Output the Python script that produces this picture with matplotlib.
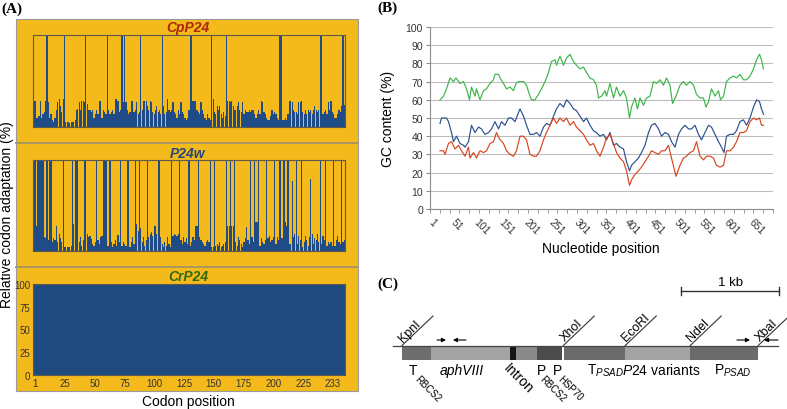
import numpy as np
import matplotlib
matplotlib.use('Agg')
import matplotlib.pyplot as plt
from matplotlib.patches import Rectangle

plt.rcParams['font.family'] = ['Liberation Sans', 'DejaVu Sans']
plt.rcParams['mathtext.fontset'] = 'custom'
plt.rcParams['mathtext.rm'] = 'Liberation Sans'
plt.rcParams['mathtext.it'] = 'Liberation Sans:italic'
plt.rcParams['mathtext.bf'] = 'Liberation Sans:bold'

# ---------------- data: panel A (relative codon adaptation, %) ----------------
cpp24_rca = [
    100, 28, 10, 10, 12, 28, 10, 14, 16, 28,
    100, 27, 10, 14, 8, 5, 10, 19, 27, 30,
    23, 16, 30, 100, 5, 5, 5, 4, 5, 5,
    5, 8, 19, 20, 27, 19, 28, 28, 27, 100,
    25, 19, 18, 16, 19, 10, 14, 19, 14, 28,
    28, 10, 19, 16, 14, 100, 19, 14, 16, 19,
    14, 30, 30, 28, 16, 19, 100, 27, 100, 27,
    19, 14, 16, 28, 28, 16, 19, 27, 14, 16,
    100, 19, 28, 28, 28, 23, 19, 28, 27, 16,
    14, 19, 23, 16, 19, 14, 100, 23, 14, 16,
    30, 19, 16, 19, 27, 16, 14, 10, 19, 14,
    27, 16, 14, 10, 8, 10, 19, 100, 100, 28,
    28, 28, 19, 16, 14, 27, 19, 14, 10, 8,
    14, 10, 8, 100, 30, 16, 14, 23, 19, 23,
    14, 10, 16, 12, 100, 28, 28, 27, 28, 23,
    19, 19, 23, 27, 19, 16, 27, 14, 19, 16,
    16, 19, 16, 19, 19, 14, 10, 14, 19, 14,
    28, 27, 16, 14, 10, 8, 8, 12, 19, 14,
    16, 14, 10, 8, 100, 100, 8, 8, 10, 8,
    14, 28, 28, 27, 19, 16, 16, 14, 27, 27,
    28, 16, 14, 19, 14, 19, 16, 19, 14, 19,
    23, 19, 16, 19, 100, 100, 14, 16, 19, 14,
    27, 19, 28, 16, 14, 10, 10, 14, 19, 16,
    23, 100, 24]

p24w_rca = [
    100, 100, 28, 100, 100, 100, 100, 100, 15, 14,
    100, 12, 100, 100, 10, 14, 12, 28, 10, 19,
    14, 10, 100, 4, 4, 4, 4, 4, 5, 100,
    30, 100, 100, 100, 10, 15, 5, 12, 100, 100,
    19, 15, 17, 13, 8, 6, 10, 100, 12, 8,
    15, 17, 100, 100, 100, 6, 6, 100, 10, 4,
    8, 12, 6, 18, 10, 100, 6, 10, 8, 6,
    100, 100, 4, 10, 15, 8, 100, 30, 22, 100,
    25, 10, 15, 6, 12, 100, 15, 19, 21, 17,
    28, 28, 19, 100, 100, 15, 8, 4, 10, 6,
    15, 8, 4, 100, 17, 19, 18, 17, 19, 100,
    12, 8, 15, 10, 14, 8, 100, 6, 10, 15,
    12, 28, 27, 100, 15, 12, 10, 8, 6, 10,
    12, 10, 100, 4, 4, 100, 6, 8, 5, 10,
    4, 6, 8, 10, 100, 27, 28, 100, 28, 27,
    100, 10, 6, 15, 12, 8, 4, 10, 14, 26,
    12, 8, 100, 15, 10, 100, 32, 32, 100, 6,
    14, 10, 8, 12, 100, 14, 17, 10, 12, 15,
    100, 8, 15, 12, 100, 14, 14, 100, 32, 28,
    100, 8, 8, 77, 15, 19, 100, 8, 17, 12,
    100, 4, 10, 17, 12, 6, 15, 79, 19, 8,
    14, 12, 19, 10, 100, 8, 17, 12, 100, 6,
    10, 8, 10, 6, 100, 6, 12, 17, 10, 8,
    100, 10, 12]

crp24_rca = [100] * 233

codon_tick_labels = ['1', '25', '50', '75', '100', '125', '150', '175', '200', '225', '233']
rca_tick_labels = ['0', '25', '50', '75', '100']

# ---------------- data: panel B (GC content, %) ----------------
green_pos = [17, 24, 30, 37, 44, 49, 57, 64, 70, 76, 80, 87, 90, 97, 104, 110, 117, 124, 127, 134,
             137, 144, 150, 157, 164, 169, 174, 184, 190, 197, 200, 207, 214, 220, 227, 234, 240,
             247, 250, 257, 264, 270, 277, 284, 290, 297, 304, 310, 317, 324, 330, 334, 340, 347,
             350, 357, 364, 370, 377, 384, 390, 396, 400, 407, 412, 417, 424, 430, 437, 444, 450,
             457, 464, 470, 477, 482, 489, 497, 504, 510, 517, 524, 530, 537, 544, 549, 554, 560,
             567, 574, 578, 584, 590, 597, 604, 610, 617, 624, 630, 637, 644, 650, 656, 660, 664]
green_gc = [60, 62, 66, 72, 70, 72, 69, 70, 66, 60, 67, 62, 66, 60, 65, 66, 69, 71, 74, 74,
            72, 69, 66, 67, 65, 69, 70, 70, 68, 62, 60, 60, 63, 66, 70, 75, 81,
            82, 79, 84, 79, 83, 85, 81, 79, 77, 78, 75, 72, 71, 68, 61, 62, 65,
            62, 69, 61, 67, 62, 65, 61, 50, 56, 61, 55, 61, 57, 61, 62, 70, 69,
            71, 68, 72, 68, 58, 62, 68, 70, 68, 70, 68, 63, 61, 61, 56, 59, 66,
            62, 65, 60, 62, 70, 72, 73, 72, 74, 71, 71, 73, 77, 82, 85, 82, 77]

blue_pos = [17, 20, 30, 34, 40, 44, 50, 57, 64, 67, 74, 80, 87, 94, 100, 107, 114, 120, 127, 134,
            140, 147, 154, 160, 167, 174, 177, 184, 190, 197, 204, 210, 217, 224, 230, 237, 244,
            250, 257, 264, 270, 277, 284, 290, 297, 304, 310, 317, 324, 330, 337, 344,
            350, 357, 364, 370, 377, 384, 390, 396, 400, 407, 414, 420, 427, 434, 440, 447, 454,
            460, 467, 474, 480, 487, 494, 500, 507, 514, 520, 527, 534, 540, 547, 554, 560, 567,
            574, 580, 585, 590, 597, 604, 610, 617, 624, 630, 637, 644, 650, 656, 660, 664]
blue_gc = [47, 50, 50, 48, 42, 37, 40, 36, 35, 34, 37, 46, 42, 45, 44, 41, 42, 44, 48, 44,
           48, 46, 50, 50, 48, 53, 55, 51, 46, 41, 41, 42, 40, 45, 47, 46, 51,
           55, 58, 56, 60, 58, 55, 54, 51, 48, 50, 46, 43, 42, 40, 41,
           38, 42, 35, 36, 34, 33, 26, 21, 24, 26, 28, 31, 35, 42, 46, 47, 44,
           40, 42, 41, 37, 34, 41, 44, 46, 44, 44, 46, 41, 38, 42, 46, 45, 41,
           37, 34, 31, 40, 41, 41, 43, 48, 49, 46, 50, 56, 60, 59, 55, 52]

red_pos = [17, 24, 27, 34, 40, 47, 54, 60, 67, 74, 77, 84, 90, 97, 104, 110, 117, 124, 130, 137,
           144, 150, 157, 164, 170, 177, 184, 190, 197, 204, 210, 217, 224, 230, 237, 244, 250,
           257, 264, 270, 277, 284, 290, 297, 304, 310, 317, 324, 330, 337, 344,
           350, 357, 364, 370, 377, 384, 390, 396, 400, 407, 414, 420, 427, 434, 440, 447, 454,
           460, 467, 474, 480, 489, 497, 504, 510, 517, 524, 530, 537, 544, 550, 557, 564, 570,
           577, 584, 590, 597, 604, 610, 617, 624, 630, 637, 644, 650, 656, 660, 664]
red_gc = [32, 32, 30, 36, 37, 33, 35, 32, 29, 34, 28, 31, 28, 32, 31, 32, 36, 37, 42, 38,
          36, 32, 30, 29, 32, 40, 40, 38, 30, 29, 29, 32, 38, 42, 46, 50, 47,
          50, 48, 50, 46, 48, 45, 43, 41, 38, 35, 36, 32, 29, 34,
          39, 41, 36, 31, 28, 26, 21, 13, 16, 19, 21, 23, 26, 29, 32, 31, 30,
          32, 32, 35, 28, 18, 24, 28, 29, 31, 32, 37, 29, 27, 29, 29, 28, 24,
          23, 24, 32, 32, 34, 37, 42, 42, 43, 48, 50, 49, 50, 46, 46]

gc_xtick_labels = [1, 51, 101, 151, 201, 251, 301, 351, 401, 451, 501, 551, 601, 651]

# ---------------- data: panel C (construct map, bp) ----------------
part_names = ['T_RBCS2', 'aphVIII', 'Intron', 'P_RBCS2', 'P_HSP70', 'gap', 'T_PSAD', 'P24 variants', 'P_PSAD']
part_bp = [300, 806, 61, 214, 255, 20, 622, 663, 694]
site_names = ['KpnI', 'XhoI', 'EcoRI', 'NdeI', 'XbaI']
site_bp = [0, 1646, 2278, 2941, 3635]
primer_from_bp = [357, 653, 3418, 3837]
primer_to_bp = [449, 520, 3551, 3694]
scale_bar_bp = 1000

# ---------------- styles ----------------
ORANGE = '#F4B91B'
BAR_BLUE = '#1f4b87'
W, H = 787, 410
fig = plt.figure(figsize=(W / 100, H / 100), dpi=100)


def px_axes(x0, y0, x1, y1, **kw):
    return fig.add_axes([x0 / W, 1 - y1 / H, (x1 - x0) / W, (y1 - y0) / H], **kw)


bg = px_axes(0, 0, W, H, zorder=0)
bg.set_xlim(0, W)
bg.set_ylim(H, 0)
bg.axis('off')

# ---- Panel A ----
bg.add_patch(Rectangle((16, 20), 342, 372, fc=ORANGE, ec='#9a9a9a', lw=0.8))
for ysep in (144, 268):
    bg.plot([16, 358], [ysep, ysep], color='#a39468', lw=1.3)

codons = np.arange(1, 234)
panelA = [
    ((36, 128), cpp24_rca, 'CpP24', '#a8290e', 28),
    ((161, 252), p24w_rca, 'P24w', '#2b4777', 154),
    ((285, 376), crp24_rca, 'CrP24', '#2f6b14', 277),
]
for k, ((y0, y1), vals, title, tcol, ty) in enumerate(panelA):
    ax = px_axes(33, y0, 345, y1, zorder=2)
    ax.set_facecolor(ORANGE)
    if k < 2:
        ax.bar(codons, vals, width=0.9, color=BAR_BLUE, edgecolor='none', linewidth=0)
    else:
        ax.bar(codons, vals, width=1.0, color='#204b81', edgecolor='#204b81', linewidth=0.3)
    ax.set_xlim(0.5, 233.5)
    ax.set_ylim(0, 100)
    for s in ax.spines.values():
        s.set_color('#5c5a4e')
        s.set_linewidth(0.8)
    if k < 2:
        ax.set_xticks([])
        ax.set_yticks([])
    else:
        ax.set_xticks(np.linspace(2.0, 224.5, len(codon_tick_labels)))
        ax.set_xticklabels(codon_tick_labels)
        ax.set_yticks([0, 25, 50, 75, 100])
        ax.set_yticklabels(rca_tick_labels)
        ax.tick_params(length=0, labelsize=7, colors='#333333', pad=2)
    bg.text(188, ty, title, ha='center', va='center', fontsize=10, fontweight='bold',
            fontstyle='italic', color=tcol)

bg.text(7, 215, 'Relative codon adaptation (%)', rotation=90, ha='center', va='center', fontsize=10)
bg.text(188, 402, 'Codon position', ha='center', va='center', fontsize=10)

# ---- Panel B ----
axB = px_axes(430, 28, 773, 210, zorder=2)
axB.plot(green_pos, green_gc, color='#3db54a', lw=0.85)
axB.plot(blue_pos, blue_gc, color='#2c4f8f', lw=0.85)
axB.plot(red_pos, red_gc, color='#d8441f', lw=0.85)
axB.set_xlim(-3, 683)
axB.set_ylim(0, 100)
axB.set_yticks(range(0, 101, 10))
axB.grid(axis='y', color='#bdbdbd', lw=0.8)
axB.set_axisbelow(True)
axB.set_xticks(gc_xtick_labels)
axB.set_xticklabels([str(v) for v in gc_xtick_labels], rotation=-45, ha='center', va='top')
axB.set_xticks(np.arange(-3, 684, 19.6), minor=True)
axB.tick_params(axis='x', which='major', length=0, pad=5, labelsize=7.5, colors='#333333')
axB.tick_params(axis='x', which='minor', length=3, color='#8c8c8c')
axB.tick_params(axis='y', length=3, color='#8c8c8c', labelsize=7.5, labelcolor='#333333', pad=2)
for s in ('top', 'right'):
    axB.spines[s].set_visible(False)
for s in ('left', 'bottom'):
    axB.spines[s].set_color('#8c8c8c')
    axB.spines[s].set_linewidth(0.8)
bg.text(388, 119, 'GC content (%)', rotation=90, ha='center', va='center', fontsize=10)
bg.text(601, 249, 'Nucleotide position', ha='center', va='center', fontsize=10)

# ---- Panel C ----
PXBP = 0.098  # px per bp
X0 = 402      # px of construct start
axC = px_axes(370, 260, 787, 410, zorder=2)
axC.set_xlim((370 - X0) / PXBP, (787 - X0) / PXBP)
axC.set_ylim(410, 260)
axC.axis('off')

part_colors = ['#6e6e6e', '#a4a4a4', '#151515', '#8a8a8a', '#4b4b4b', 'white', '#6b6b6b', '#a4a4a4', '#6b6b6b']
starts = np.concatenate([[0], np.cumsum(part_bp)[:-1]])
for st, ln, col in zip(starts, part_bp, part_colors):
    axC.add_patch(Rectangle((st, 347), ln, 14, fc=col, ec='none'))
axC.plot([(393 - X0) / PXBP, (778 - X0) / PXBP], [346.5, 346.5], color='#444444', lw=0.9)

for name, sb in zip(site_names, site_bp):
    axC.plot([sb, sb + 31 / PXBP], [346.5, 317], color='#333333', lw=0.8)
    axC.text(sb + 1 / PXBP, 342.5, name, rotation=45, rotation_mode='anchor', ha='left',
             va='baseline', fontsize=9)

for a, b in zip(primer_from_bp, primer_to_bp):
    axC.annotate('', xy=(b, 341), xytext=(a, 341),
                 arrowprops=dict(arrowstyle='-|>', color='black', lw=0.8, mutation_scale=6,
                                 shrinkA=0, shrinkB=0))

sb0 = (681 - X0) / PXBP
axC.plot([sb0, sb0 + scale_bar_bp], [292, 292], color='#333333', lw=1.0)
for xx in (sb0, sb0 + scale_bar_bp):
    axC.plot([xx, xx], [288, 296], color='#333333', lw=1.0)
axC.text(sb0 + scale_bar_bp / 2, 286, '1 kb', ha='center', va='baseline', fontsize=9.5)

# labels under construct (pixel coordinates)
bg.text(409, 375, 'T', ha='left', va='baseline', fontsize=10)
bg.text(414, 380, 'RBCS2', rotation=-45, rotation_mode='anchor', ha='left', va='baseline', fontsize=7)
bg.text(462, 375, 'aphVIII', ha='center', va='baseline', fontsize=10, fontstyle='italic')
bg.text(503, 369, 'Intron', rotation=-45, rotation_mode='anchor', ha='left', va='baseline', fontsize=10)
bg.text(537, 375, 'P', ha='left', va='baseline', fontsize=10)
bg.text(539, 380, 'RBCS2', rotation=-45, rotation_mode='anchor', ha='left', va='baseline', fontsize=7)
bg.text(553, 375, 'P', ha='left', va='baseline', fontsize=10)
bg.text(557, 380, 'HSP70', rotation=-45, rotation_mode='anchor', ha='left', va='baseline', fontsize=7)
bg.text(587, 375, r'T$_{\mathit{PSAD}}$', ha='left', va='baseline', fontsize=10)
bg.text(622, 375, r'$\mathit{P24}$ variants', ha='left', va='baseline', fontsize=10)
bg.text(714, 375, r'P$_{\mathit{PSAD}}$', ha='left', va='baseline', fontsize=10)

# panel letters
for lab, x, y in (('(A)', 1, 3), ('(B)', 377, 2), ('(C)', 377, 278)):
    bg.text(x, y, lab, ha='left', va='top', fontsize=11, fontweight='bold', family='Liberation Serif')

fig.savefig('out.png', dpi=100)
